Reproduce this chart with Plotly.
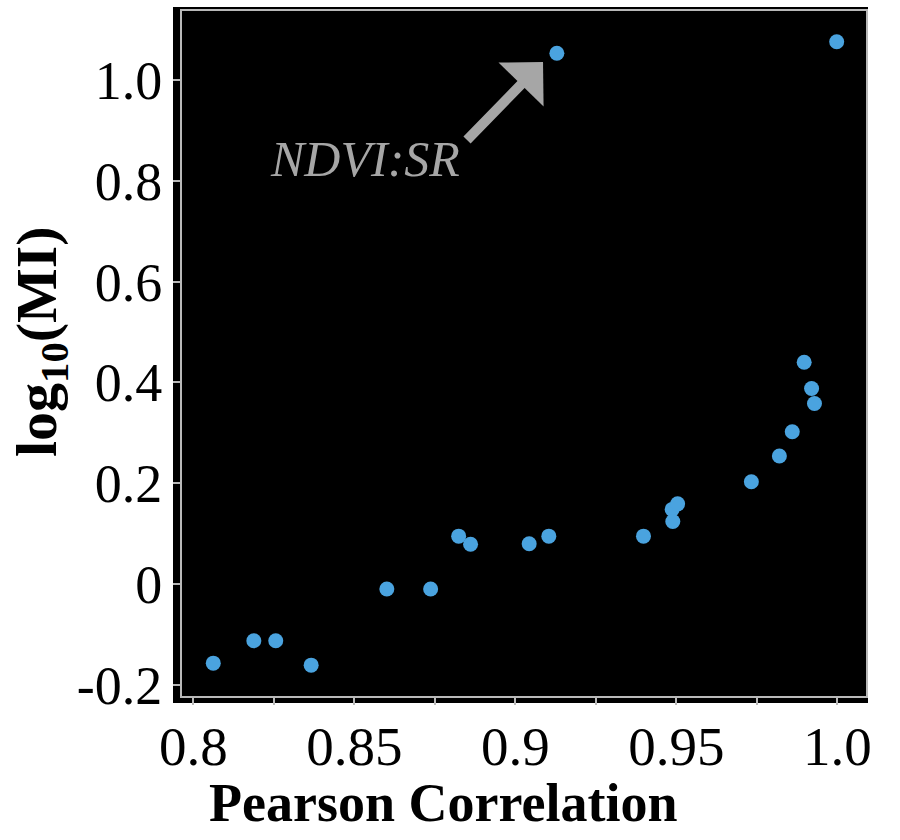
import plotly.graph_objects as go

# ---- data ----
pearson = [0.8062, 0.8188, 0.8256, 0.8366, 0.8601, 0.8737, 0.8824, 0.8861,
           0.9043, 0.9104, 0.9129, 0.9398, 0.9487, 0.9489, 0.9504, 0.9733,
           0.9820, 0.9860, 0.9897, 0.9920, 0.9929, 0.9998]
log_mi = [-0.157, -0.1125, -0.1125, -0.161, -0.010, -0.010, 0.095, 0.079,
          0.080, 0.095, 1.053, 0.095, 0.148, 0.124, 0.159, 0.203,
          0.254, 0.302, 0.440, 0.388, 0.358, 1.076]

x_tickvals = [0.8, 0.85, 0.9, 0.95, 1.0]
x_ticktext = ["0.8", "0.85", "0.9", "0.95", "1.0"]
x_minor_tickvals = [0.825, 0.875, 0.925, 0.975]
y_tickvals = [-0.2, 0.0, 0.2, 0.4, 0.6, 0.8, 1.0]
y_ticktext = ["-0.2", "0", "0.2", "0.4", "0.6", "0.8", "1.0"]

label_text = "NDVI:SR"
label_pos = (0.8533, 0.843)
arrow_tip = (0.9086, 1.0357)

FONT = "Liberation Serif"
AXIS_GRAY = "#b9b9b9"
ANNO_GRAY = "#a6a6a6"

fig = go.Figure()
fig.add_trace(go.Scatter(
    x=pearson, y=log_mi, mode="markers",
    marker=dict(size=15, color="#4aa3df", line=dict(width=0)),
    showlegend=False, hoverinfo="x+y",
))

axis_common = dict(
    showline=True, linecolor=AXIS_GRAY, linewidth=2, mirror=True,
    ticks="outside", tickcolor=AXIS_GRAY, tickwidth=2, ticklen=7,
    showgrid=False, zeroline=False,
)

fig.update_xaxes(
    range=[0.79649, 1.0089], tickmode="array",
    tickvals=x_tickvals, ticktext=x_ticktext,
    tickfont=dict(family=FONT, size=55, color="black"),
    ticklabelstandoff=-6,
    minor=dict(tickmode="array", tickvals=x_minor_tickvals, ticks="outside",
               ticklen=7, tickwidth=2, tickcolor=AXIS_GRAY, showgrid=False),
    **axis_common,
)
fig.update_yaxes(
    range=[-0.2222, 1.1369], tickmode="array",
    tickvals=y_tickvals, ticktext=y_ticktext,
    tickfont=dict(family=FONT, size=54, color="black"),
    ticklabelstandoff=0,
    **axis_common,
)

fig.update_layout(
    width=900, height=840,
    margin=dict(l=182, r=34, t=11, b=144, autoexpand=False),
    paper_bgcolor="white", plot_bgcolor="black",
    font=dict(family=FONT, color="black"),
    shapes=[dict(
        type="rect", xref="paper", yref="paper",
        x0=-0.01316, x1=1.00292, y0=-0.01022, y1=1.00584,
        fillcolor="black", line=dict(width=0), layer="below",
    )],
    annotations=[
        dict(
            x=arrow_tip[0], y=arrow_tip[1], xref="x", yref="y",
            text=".", font=dict(size=4, color="rgba(0,0,0,0)"),
            showarrow=True, ax=-78, ay=80,
            arrowcolor=ANNO_GRAY, arrowwidth=10, arrowhead=1, arrowsize=1.05,
            standoff=0,
        ),
        dict(
            x=label_pos[0], y=label_pos[1], xref="x", yref="y",
            text="<i>" + label_text + "</i>", showarrow=False,
            font=dict(family=FONT, size=50, color=ANNO_GRAY),
            xanchor="center", yanchor="middle",
        ),
        dict(
            x=(443 - 182) / 684, y=(696 - 803) / 685, xref="paper", yref="paper",
            text="<b>Pearson Correlation</b>", showarrow=False,
            font=dict(family=FONT, size=54, color="black"),
            xanchor="center", yanchor="middle",
        ),
        dict(
            x=(40 - 182) / 684, y=(696 - 342) / 685, xref="paper", yref="paper",
            text="<b>log<sub>10</sub>(MI)</b>", showarrow=False, textangle=-90,
            font=dict(family=FONT, size=58, color="black"),
            xanchor="center", yanchor="middle",
        ),
    ],
)

fig.write_html("out.html")
